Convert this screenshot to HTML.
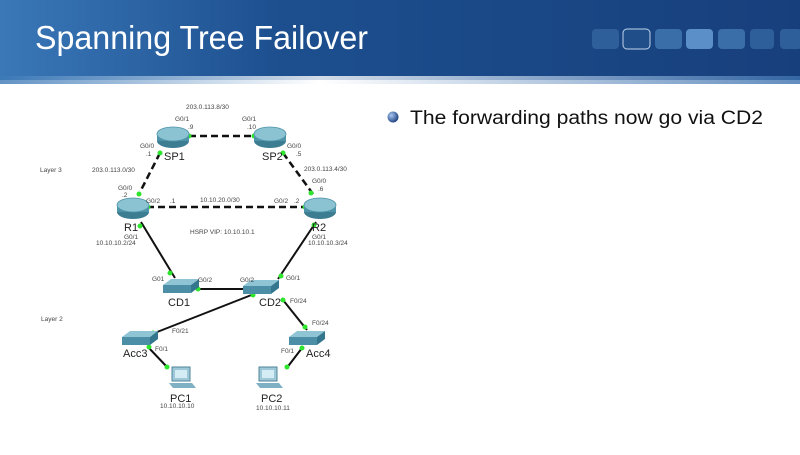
<!DOCTYPE html>
<html><head><meta charset="utf-8"><style>
body{margin:0;width:800px;height:450px;overflow:hidden;background:#fff;font-family:"Liberation Sans",sans-serif}
</style></head><body>
<svg width="800" height="450" xmlns="http://www.w3.org/2000/svg">
<defs>
<linearGradient id="hd" x1="0" x2="1" y1="0" y2="0"><stop offset="0" stop-color="#3a78b8"/><stop offset="0.35" stop-color="#1d4f8f"/><stop offset="1" stop-color="#173f7c"/></linearGradient>
<linearGradient id="st" x1="0" x2="1"><stop offset="0" stop-color="#3b78b6"/><stop offset="0.4" stop-color="#ffffff"/><stop offset="1" stop-color="#3b70ae"/></linearGradient>
<radialGradient id="bl" cx="0.35" cy="0.35" r="0.7"><stop offset="0" stop-color="#a8c8f0"/><stop offset="1" stop-color="#1c3f80"/></radialGradient>
<g id="rt"><ellipse cx="0" cy="4" rx="16" ry="7" fill="#3d7d92"/><rect x="-16" y="-3" width="32" height="7" fill="#4e93a8"/><ellipse cx="0" cy="-3" rx="16" ry="7" fill="#8cc3d3" stroke="#4e93a8" stroke-width="0.8"/></g>
<g id="sw"><polygon points="-17,-3 -9,-9 19,-9 11,-3" fill="#8ec4d4"/><polygon points="-17,-3 11,-3 11,5 -17,5" fill="#4b8ea6"/><polygon points="11,-3 19,-9 19,-1 11,5" fill="#33768e"/></g>
<g id="pc"><rect x="-10" y="-11" width="18" height="14" fill="#9ec8d8" stroke="#4d8499"/><rect x="-7" y="-8" width="12" height="8" fill="#d4ecf4"/><polygon points="-13,5 10,5 14,10 -9,10" fill="#7fb0c4"/></g>
</defs>
<rect width="800" height="80" fill="url(#hd)"/>
<rect y="76" width="800" height="8" fill="url(#st)" opacity="0.8"/>
<text x="35" y="49" font-size="33" fill="#fff" textLength="333" lengthAdjust="spacingAndGlyphs">Spanning Tree Failover</text>
<g fill="#2e5f9a"><rect x="592" y="29" width="27" height="20" rx="4"/><rect x="655" y="29" width="27" height="20" rx="4" fill="#3a6ea8"/><rect x="686" y="29" width="27" height="20" rx="4" fill="#5a8fc8"/><rect x="718" y="29" width="27" height="20" rx="4" fill="#3a6ea8"/><rect x="750" y="29" width="24" height="20" rx="4"/><rect x="780" y="29" width="22" height="20" rx="4"/></g>
<rect x="623" y="29" width="27" height="20" rx="4" fill="#1f4e88" stroke="#c0d4ea" stroke-width="1"/>
<circle cx="393" cy="117" r="5.5" fill="url(#bl)"/>
<text x="410" y="124" font-size="19" fill="#111" textLength="353" lengthAdjust="spacingAndGlyphs">The forwarding paths now go via CD2</text>
<g stroke="#111" stroke-width="2.5" stroke-dasharray="7,4" fill="none">
<line x1="189" y1="136" x2="254" y2="136"/><line x1="160" y1="153" x2="138" y2="196"/><line x1="283" y1="153" x2="313" y2="194"/><line x1="147" y1="207" x2="306" y2="207"/>
</g>
<g stroke="#111" stroke-width="2" fill="none">
<line x1="141" y1="222" x2="175" y2="278"/><line x1="316" y1="222" x2="278" y2="279"/><line x1="198" y1="289" x2="254" y2="289"/><line x1="254" y1="294" x2="152" y2="334"/><line x1="283" y1="300" x2="307" y2="330"/><line x1="148" y1="347" x2="168" y2="368"/><line x1="302" y1="348" x2="286" y2="369"/>
</g>
<g fill="#2ee52e"><circle cx="189" cy="136" r="2.5"/><circle cx="254" cy="136" r="2.5"/><circle cx="160" cy="153" r="2.5"/><circle cx="139" cy="194" r="2.5"/><circle cx="283" cy="153" r="2.5"/><circle cx="311" cy="193" r="2.5"/><circle cx="148" cy="207" r="2.5"/><circle cx="305" cy="207" r="2.5"/><circle cx="140" cy="226" r="2.5"/><circle cx="314" cy="225" r="2.5"/><circle cx="170" cy="273" r="2.5"/><circle cx="198" cy="289" r="2.5"/><circle cx="253" cy="289" r="2.5"/><circle cx="253" cy="295" r="2.5"/><circle cx="281" cy="276" r="2.5"/><circle cx="283" cy="300" r="2.5"/><circle cx="305" cy="327" r="2.5"/><circle cx="153" cy="333" r="2.5"/><circle cx="149" cy="347" r="2.5"/><circle cx="167" cy="367" r="2.5"/><circle cx="302" cy="348" r="2.5"/><circle cx="287" cy="367" r="2.5"/></g>
<use href="#rt" x="173" y="137"/><use href="#rt" x="270" y="137"/><use href="#rt" x="133" y="208"/><use href="#rt" x="320" y="208"/>
<use href="#sw" x="180" y="288"/><use href="#sw" x="260" y="289"/><use href="#sw" x="139" y="340"/><use href="#sw" x="306" y="340"/>
<use href="#pc" x="182" y="378"/><use href="#pc" x="269" y="378"/>
<g font-size="11" fill="#222"><text x="164" y="160">SP1</text><text x="262" y="160">SP2</text><text x="124" y="231">R1</text><text x="312" y="231">R2</text><text x="168" y="306">CD1</text><text x="259" y="306">CD2</text><text x="123" y="357">Acc3</text><text x="306" y="357">Acc4</text><text x="170" y="402">PC1</text><text x="261" y="402">PC2</text></g>
<g font-size="6.5" fill="#444">
<text x="186" y="109">203.0.113.8/30</text><text x="175" y="121">G0/1</text><text x="188" y="129">.9</text><text x="242" y="121">G0/1</text><text x="247" y="129">.10</text>
<text x="140" y="148">G0/0</text><text x="146" y="156">.1</text><text x="287" y="148">G0/0</text><text x="296" y="156">.5</text>
<text x="40" y="172">Layer 3</text><text x="92" y="172">203.0.113.0/30</text><text x="304" y="171">203.0.113.4/30</text>
<text x="118" y="190">G0/0</text><text x="122" y="197">.2</text><text x="312" y="183">G0/0</text><text x="318" y="191">.6</text>
<text x="146" y="203">G0/2</text><text x="170" y="203">.1</text><text x="200" y="202">10.10.20.0/30</text><text x="274" y="203">G0/2</text><text x="294" y="203">.2</text>
<text x="190" y="234">HSRP VIP: 10.10.10.1</text><text x="124" y="239">G0/1</text><text x="96" y="245">10.10.10.2/24</text><text x="312" y="239">G0/1</text><text x="308" y="245">10.10.10.3/24</text>
<text x="152" y="281">G01</text><text x="198" y="282">G0/2</text><text x="240" y="282">G0/2</text><text x="286" y="280">G0/1</text><text x="290" y="303">F0/24</text>
<text x="41" y="321">Layer 2</text><text x="172" y="333">F0/21</text><text x="312" y="325">F0/24</text><text x="155" y="351">F0/1</text><text x="281" y="353">F0/1</text>
<text x="160" y="408">10.10.10.10</text><text x="256" y="410">10.10.10.11</text>
</g>
</svg>
</body></html>
